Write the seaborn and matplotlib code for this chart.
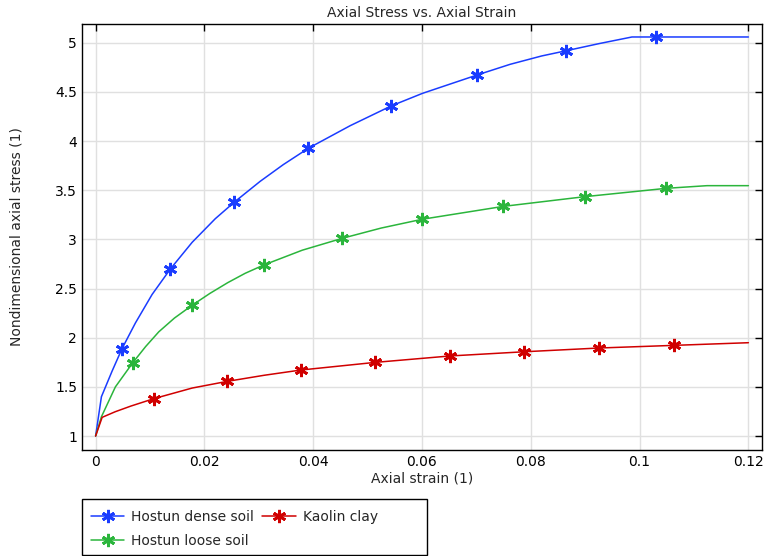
import numpy as np
import matplotlib
matplotlib.use("Agg")
import matplotlib.pyplot as plt
from matplotlib.lines import Line2D
from matplotlib.patches import Rectangle
import seaborn as sns

# curves
dense_x = [0, 0.00107, 0.00303, 0.00487, 0.00732, 0.01039, 0.01376, 0.01775, 0.0220,
           0.02553, 0.03025, 0.0345, 0.0391, 0.0468, 0.0543, 0.0601, 0.0701, 0.0762,
           0.0820, 0.0865, 0.0925, 0.0986, 0.1031, 0.12]
dense_y = [1.0, 1.40, 1.66, 1.89, 2.15, 2.44, 2.70, 2.97, 3.21,
           3.38, 3.59, 3.76, 3.926, 4.156, 4.356, 4.485, 4.671, 4.78,
           4.865, 4.918, 4.99, 5.058, 5.058, 5.058]

loose_x = [0, 0.00107, 0.00364, 0.00684, 0.0092, 0.01162, 0.0145, 0.01775, 0.0210,
           0.0243, 0.0275, 0.0309, 0.0380, 0.0453, 0.0525, 0.060, 0.0749, 0.0899,
           0.1049, 0.1124, 0.12]
loose_y = [1.0, 1.196, 1.50, 1.746, 1.91, 2.06, 2.20, 2.33, 2.45,
           2.56, 2.655, 2.739, 2.89, 3.01, 3.115, 3.204, 3.335, 3.434,
           3.519, 3.546, 3.546]

kaolin_x = [0, 0.0012, 0.0036, 0.0065, 0.0107, 0.01775, 0.0242, 0.0310, 0.0377,
            0.0514, 0.0651, 0.0788, 0.0925, 0.1063, 0.12]
kaolin_y = [1.0, 1.19, 1.247, 1.305, 1.38, 1.488, 1.556, 1.618, 1.671,
            1.749, 1.814, 1.857, 1.895, 1.922, 1.949]

# marker positions
dense_mx = [0.00487, 0.01376, 0.02553, 0.0391, 0.0543, 0.0701, 0.0865, 0.1031]
dense_my = [1.89, 2.70, 3.38, 3.926, 4.356, 4.671, 4.918, 5.058]
loose_mx = [0.00684, 0.01775, 0.0309, 0.0453, 0.060, 0.0749, 0.0899, 0.1049]
loose_my = [1.746, 2.33, 2.739, 3.01, 3.204, 3.335, 3.434, 3.519]
kaolin_mx = [0.0107, 0.0242, 0.0377, 0.0514, 0.0651, 0.0788, 0.0925, 0.1063]
kaolin_my = [1.38, 1.556, 1.671, 1.749, 1.814, 1.857, 1.895, 1.922]

labels = ["Hostun dense soil", "Hostun loose soil", "Kaolin clay"]
colors = ["#1a3cff", "#2bb53c", "#d00000"]
x_ticks = [0, 0.02, 0.04, 0.06, 0.08, 0.1, 0.12]
x_ticklabels = ["0", "0.02", "0.04", "0.06", "0.08", "0.1", "0.12"]
y_ticks = [1, 1.5, 2, 2.5, 3, 3.5, 4, 4.5, 5]
y_ticklabels = ["1", "1.5", "2", "2.5", "3", "3.5", "4", "4.5", "5"]

sns.set_style("white")
plt.rcParams["font.family"] = ["DejaVu Sans"]
plt.rcParams["font.size"] = 10

fig = plt.figure(figsize=(7.65, 5.56), dpi=100)
ax = fig.add_axes([82 / 765, 106 / 556, 680 / 765, 426 / 556])

asterisk = (6, 2, 0)
series = [
    (dense_x, dense_y, dense_mx, dense_my),
    (loose_x, loose_y, loose_mx, loose_my),
    (kaolin_x, kaolin_y, kaolin_mx, kaolin_my),
]
for (cx, cy, mx, my), c in zip(series, colors):
    sns.lineplot(x=cx, y=cy, ax=ax, color=c, lw=1.1, sort=False, estimator=None)
    sns.lineplot(x=mx, y=my, ax=ax, color=c, linestyle="", marker=asterisk,
                 markersize=9.5, markeredgewidth=2.0, markeredgecolor=c,
                 estimator=None)

ax.set_xlim(-0.0025, 0.1225)
ax.set_ylim(0.858, 5.19)
ax.set_xticks(x_ticks)
ax.set_xticklabels(x_ticklabels)
ax.set_yticks(y_ticks)
ax.set_yticklabels(y_ticklabels)
ax.grid(True, color="#e0e0e0", lw=1)
ax.tick_params(direction="in", length=5, width=1, top=True, right=True,
               labelsize=10, colors="black")
for s in ax.spines.values():
    s.set_color("black")
    s.set_linewidth(1)

ax.set_title("Axial Stress vs. Axial Strain", fontsize=10, pad=5)
ax.set_xlabel("Axial strain (1)", fontsize=10, labelpad=2)
ax.set_ylabel("Nondimensional axial stress (1)", fontsize=10, labelpad=23)

handles = [Line2D([], [], color=c, lw=1.1, marker=asterisk, markersize=9.5,
                  markeredgewidth=2.0, markeredgecolor=c) for c in colors]
fig.legend(handles, labels, ncol=2, frameon=False, loc="upper left",
           bbox_to_anchor=(91 / 765, 1 - 510 / 556), borderpad=0, borderaxespad=0,
           handlelength=2.4, handletextpad=0.5, columnspacing=0.6,
           labelspacing=0.7, fontsize=10)
fig.patches.append(Rectangle((82 / 765, 1 / 556), 345 / 765, 56 / 556,
                             transform=fig.transFigure, fill=False,
                             edgecolor="black", lw=1))

fig.savefig("out.png", dpi=100)
